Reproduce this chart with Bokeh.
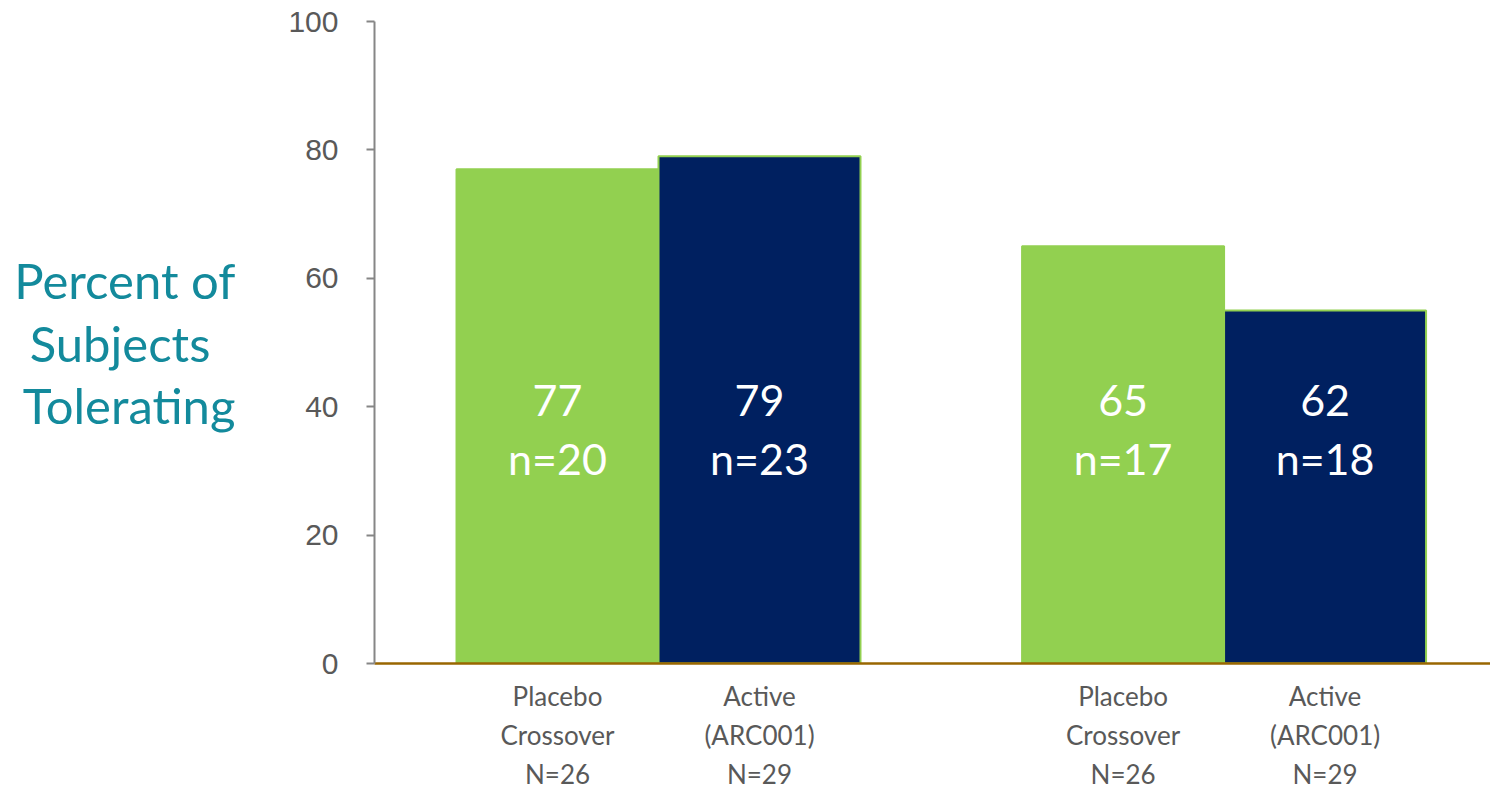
from bokeh.plotting import figure
from bokeh.models import Range1d, FixedTicker, ColumnDataSource
from bokeh.core.properties import value
from bokeh.embed import file_html
from bokeh.resources import INLINE

# ---- data ----
groups = ["Group 1", "Group 2"]
arms = ["Placebo\nCrossover\nN=26", "Active\n(ARC001)\nN=29"]
bar_values = [[77, 79], [65, 55]]          # bar heights as drawn
pct_labels = [["77", "79"], ["65", "62"]]  # printed values
n_labels = [["n=20", "n=23"], ["n=17", "n=18"]]
y_ticks = [0, 20, 40, 60, 80, 100]
NB = "\u00a0"
y_title = "Percent of\nSubjects" + NB * 2 + "\nTolerating"

# ---- style ----
GREEN = "#92D050"
NAVY = "#002060"
TEAL = "#138A9C"
GRAY_TXT = "#595959"
GROUP_GAP = 0.8

xs, tops, fills, lines, pcts, ns, cats = [], [], [], [], [], [], []
for g in range(len(groups)):
    for k in range(len(arms)):
        xs.append(round(g * (len(arms) + GROUP_GAP) + k, 3))
        tops.append(bar_values[g][k])
        fills.append(GREEN if k == 0 else NAVY)
        lines.append(GREEN)
        pcts.append(pct_labels[g][k])
        ns.append(n_labels[g][k])
        cats.append(arms[k])

src = ColumnDataSource(dict(x=xs, top=tops, fill=fills, line=lines, pct=pcts, n=ns))

p = figure(width=1490, height=792, output_backend="svg", toolbar_location=None,
           x_range=Range1d(-0.906, 4.619), y_range=Range1d(0, 100),
           min_border_left=374, min_border_right=0, min_border_top=21, min_border_bottom=129)
p.outline_line_color = None
p.xgrid.visible = False
p.ygrid.visible = False
p.background_fill_color = "white"
p.border_fill_color = "white"

p.vbar(x="x", top="top", bottom=0, width=1, source=src,
       fill_color="fill", line_color="line", line_width=2)

p.text(x="x", y=41, text="pct", source=src, text_color="white",
       text_font=value("Lato"), text_font_size="43px",
       text_align="center", text_baseline="middle")
p.text(x="x", y=32, text="n", source=src, text_color="white",
       text_font=value("Lato"), text_font_size="43px",
       text_align="center", text_baseline="middle")

# y axis
ya = p.yaxis[0]
ya.ticker = FixedTicker(ticks=y_ticks)
ya.minor_tick_line_color = None
ya.major_tick_in = 0
ya.major_tick_out = 8
ya.axis_line_color = "#868686"
ya.axis_line_width = 2
ya.major_tick_line_color = "#868686"
ya.major_tick_line_width = 2
ya.major_label_text_font = "Liberation Sans"
ya.major_label_text_font_size = "30px"
ya.major_label_text_color = GRAY_TXT
ya.major_label_standoff = 28
ya.axis_label = y_title
ya.axis_label_orientation = "horizontal"
ya.axis_label_text_font = "Lato"
ya.axis_label_text_font_size = "49px"
ya.axis_label_text_font_style = "normal"
ya.axis_label_text_color = TEAL
ya.axis_label_text_line_height = 1.08
ya.axis_label_text_align = "center"
ya.axis_label_standoff = 50

# x axis
xa = p.xaxis[0]
xa.ticker = FixedTicker(ticks=xs)
xa.major_label_overrides = {x: c for x, c in zip(xs, cats)}
xa.minor_tick_line_color = None
xa.major_tick_line_color = None
xa.major_tick_in = 0
xa.major_tick_out = 0
xa.major_label_text_font = "Lato"
xa.major_label_text_font_size = "26px"
xa.major_label_text_color = GRAY_TXT
xa.major_label_text_line_height = 1.22
xa.major_label_standoff = 16
xa.axis_line_color = "#996600"
xa.axis_line_width = 2.5

open("out.html", "w").write(file_html(p, INLINE))
